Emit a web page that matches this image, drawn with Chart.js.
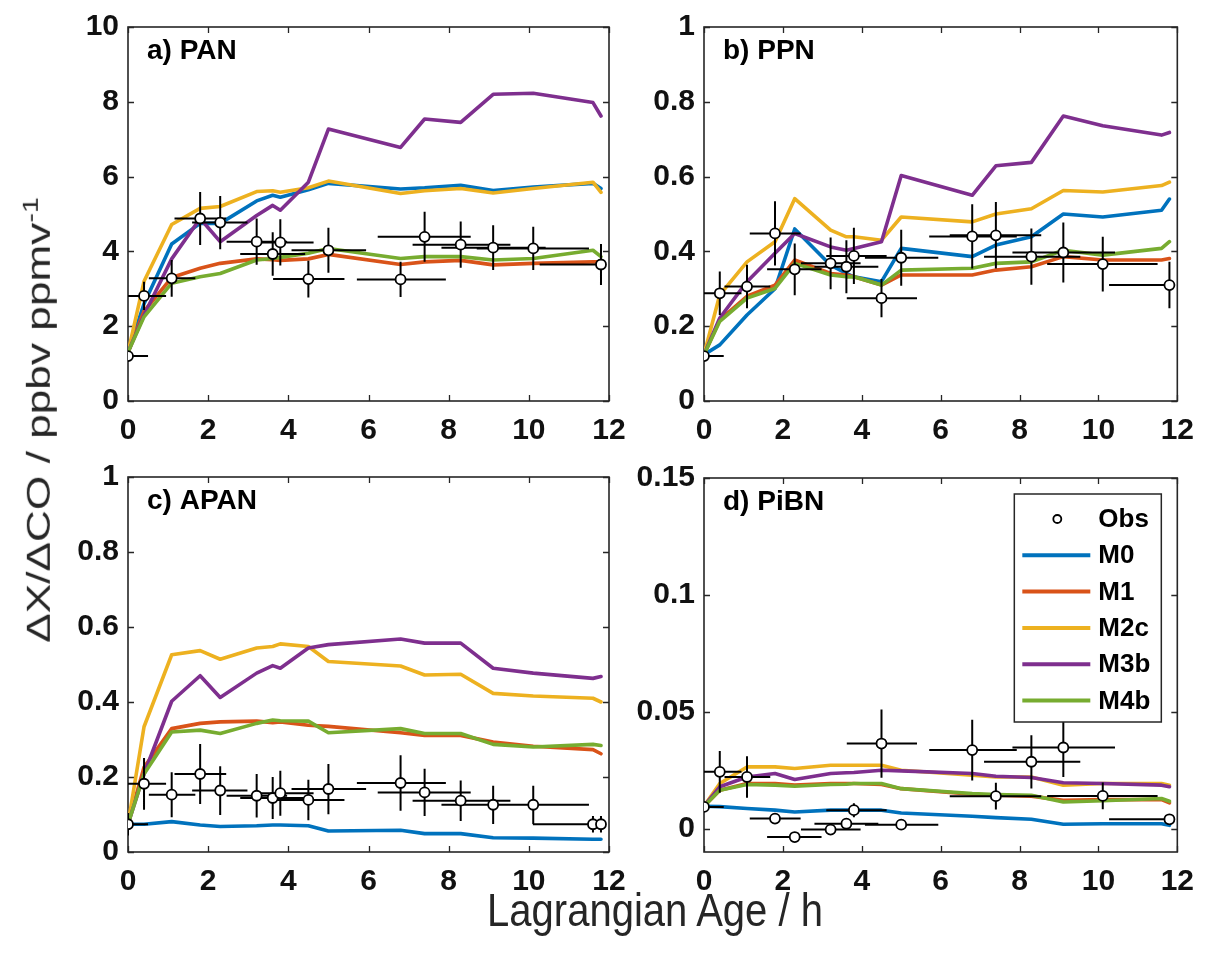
<!DOCTYPE html>
<html><head><meta charset="utf-8">
<script src="https://cdn.jsdelivr.net/npm/chart.js@4.4.1/dist/chart.umd.min.js"></script>
<style>
html,body{margin:0;padding:0;background:#fff;width:1206px;height:960px;overflow:hidden;}
#wrap{position:relative;width:1206px;height:960px;}
canvas{position:absolute;left:0;top:0;}
.title{position:absolute;font-family:"Liberation Sans",Arial,sans-serif;color:#262626;white-space:nowrap;}
#ytitle{left:38px;top:420px;font-size:34px;transform:translate(-50%,-50%) rotate(-90deg) scaleX(1.3);}
#ytitle sup{font-size:22px;}
#xtitle{left:655px;top:910px;font-size:40px;transform:translate(-50%,-50%) scaleY(1.15);}
</style></head><body>
<div id="wrap">
<canvas id="ca" width="1206" height="960"></canvas>
<canvas id="cb" width="1206" height="960"></canvas>
<canvas id="cc" width="1206" height="960"></canvas>
<canvas id="cd" width="1206" height="960"></canvas>
<div class="title" id="ytitle">ΔX/ΔCO / ppbv ppmv<sup>-1</sup></div>
<div class="title" id="xtitle">Lagrangian Age / h</div>
</div>
<script>
// ---------- shared x data ----------
const AGE = [0, 0.40, 1.09, 1.80, 2.30, 3.21, 3.61, 3.80, 4.50, 5.00, 6.80, 7.40, 8.30, 9.11, 10.11, 11.60, 11.80];
const OBS_AGE_LO = [0, 0, 0.52, 1.16, 1.60, 2.46, 2.80, 3.10, 3.62, 4.08, 5.71, 6.23, 7.10, 7.82, 8.70, 10.10, 10.27];
const OBS_AGE_HI = [0.50, 0.95, 1.68, 2.45, 2.98, 3.97, 4.42, 4.63, 5.40, 5.94, 7.93, 8.55, 9.54, 10.42, 11.50, 11.60, 11.80];
const X_TICKS = [0, 2, 4, 6, 8, 10, 12];
const X_TICK_LABELS = ['0', '2', '4', '6', '8', '10', '12'];
const MODEL_NAMES = ['M0', 'M1', 'M2c', 'M3b', 'M4b'];
const MODEL_COLORS = ['#0072BD', '#D95319', '#EDB120', '#7E2F8E', '#77AC30'];

// ---------- a) PAN ----------
const PAN_OBS = [1.20, 2.81, 3.28, 4.88, 4.77, 4.26, 3.93, 4.24, 3.26, 4.03, 3.25, 4.39, 4.18, 4.10, 4.08, null, 3.65];
const PAN_OBS_ERR = [0.05, 0.38, 0.49, 0.71, 0.71, 0.62, 0.58, 0.62, 0.49, 0.60, 0.47, 0.67, 0.62, 0.60, 0.58, null, 0.55];
const PAN_M0 = [1.30, 2.60, 4.20, 4.75, 4.75, 5.35, 5.50, 5.45, 5.65, 5.82, 5.67, 5.70, 5.77, 5.63, 5.72, 5.82, 5.68];
const PAN_M1 = [1.30, 2.40, 3.30, 3.55, 3.68, 3.80, 3.78, 3.76, 3.80, 3.92, 3.65, 3.72, 3.76, 3.64, 3.68, 3.72, 3.72];
const PAN_M2C = [1.30, 3.20, 4.72, 5.15, 5.20, 5.60, 5.62, 5.58, 5.70, 5.88, 5.55, 5.62, 5.68, 5.56, 5.68, 5.85, 5.58];
const PAN_M3B = [1.30, 2.30, 3.80, 4.88, 4.26, 4.96, 5.23, 5.10, 5.85, 7.27, 6.78, 7.54, 7.45, 8.20, 8.23, 7.98, 7.62];
const PAN_M4B = [1.30, 2.25, 3.15, 3.32, 3.41, 3.77, 3.81, 3.84, 3.95, 4.08, 3.81, 3.86, 3.86, 3.77, 3.81, 4.03, 3.86];
const PAN_Y_TICKS = [0, 2, 4, 6, 8, 10];
const PAN_Y_LABELS = ['0', '2', '4', '6', '8', '10'];

// ---------- b) PPN ----------
const PPN_OBS = [0.120, 0.288, 0.306, 0.448, 0.352, 0.368, 0.359, 0.388, 0.275, 0.383, 0.440, 0.443, 0.386, 0.397, 0.366, null, 0.310];
const PPN_OBS_ERR = [0.01, 0.058, 0.058, 0.086, 0.069, 0.069, 0.071, 0.075, 0.051, 0.075, 0.086, 0.089, 0.075, 0.080, 0.073, null, 0.062];
const PPN_M0 = [0.124, 0.150, 0.230, 0.300, 0.460, 0.363, 0.341, 0.332, 0.319, 0.408, 0.386, 0.417, 0.439, 0.500, 0.492, 0.510, 0.540];
const PPN_M1 = [0.124, 0.217, 0.280, 0.310, 0.377, 0.341, 0.337, 0.332, 0.310, 0.337, 0.337, 0.350, 0.359, 0.386, 0.377, 0.377, 0.381];
const PPN_M2C = [0.124, 0.284, 0.372, 0.426, 0.541, 0.457, 0.439, 0.439, 0.430, 0.492, 0.479, 0.500, 0.514, 0.563, 0.559, 0.576, 0.585];
const PPN_M3B = [0.124, 0.222, 0.319, 0.395, 0.448, 0.412, 0.403, 0.408, 0.426, 0.603, 0.550, 0.629, 0.638, 0.762, 0.736, 0.711, 0.718];
const PPN_M4B = [0.124, 0.213, 0.275, 0.301, 0.368, 0.337, 0.332, 0.332, 0.310, 0.350, 0.355, 0.368, 0.372, 0.403, 0.390, 0.408, 0.426];
const UNIT_Y_TICKS = [0, 0.2, 0.4, 0.6, 0.8, 1];
const UNIT_Y_LABELS = ['0', '0.2', '0.4', '0.6', '0.8', '1'];

// ---------- c) APAN ----------
const APAN_OBS = [0.074, 0.182, 0.153, 0.208, 0.164, 0.150, 0.144, 0.157, 0.139, 0.168, 0.184, 0.159, 0.137, 0.126, 0.126, 0.074, 0.074];
const APAN_OBS_ERR = [0.03, 0.069, 0.060, 0.080, 0.065, 0.058, 0.056, 0.060, 0.054, 0.067, 0.074, 0.063, 0.054, 0.051, 0.051, 0.022, 0.022];
const APAN_M0 = [0.074, 0.074, 0.081, 0.072, 0.068, 0.070, 0.072, 0.072, 0.070, 0.056, 0.058, 0.049, 0.049, 0.038, 0.037, 0.034, 0.034];
const APAN_M1 = [0.074, 0.226, 0.329, 0.343, 0.347, 0.349, 0.345, 0.347, 0.338, 0.335, 0.318, 0.311, 0.311, 0.293, 0.282, 0.273, 0.262];
const APAN_M2C = [0.074, 0.334, 0.526, 0.537, 0.514, 0.544, 0.548, 0.555, 0.548, 0.508, 0.496, 0.472, 0.474, 0.423, 0.416, 0.410, 0.400];
const APAN_M3B = [0.074, 0.208, 0.402, 0.470, 0.412, 0.477, 0.497, 0.490, 0.544, 0.553, 0.568, 0.557, 0.557, 0.490, 0.477, 0.463, 0.468];
const APAN_M4B = [0.074, 0.208, 0.320, 0.325, 0.316, 0.343, 0.352, 0.350, 0.349, 0.318, 0.329, 0.316, 0.316, 0.287, 0.280, 0.287, 0.284];

// ---------- d) PiBN ----------
const PIBN_OBS = [0.0093, 0.0243, 0.0221, 0.0043, -0.0036, -0.0004, 0.0021, 0.0079, 0.0364, 0.0017, 0.0336, 0.0139, 0.0286, 0.0347, 0.0140, null, 0.0040];
const PIBN_OBS_ERR = [0, 0.0089, 0.0089, 0, 0, 0, 0, 0.003, 0.0146, 0, 0.0130, 0.0057, 0.0114, 0.0126, 0.0057, null, 0.001];
const PIBN_M0 = [0.0096, 0.0094, 0.0086, 0.0079, 0.0071, 0.0079, 0.0079, 0.0079, 0.0079, 0.0067, 0.0053, 0.0047, 0.0040, 0.0019, 0.0021, 0.0021, 0.0014];
const PIBN_M1 = [0.0096, 0.0164, 0.0193, 0.0193, 0.0186, 0.0193, 0.0193, 0.0193, 0.0189, 0.0171, 0.0147, 0.0143, 0.0139, 0.0121, 0.0124, 0.0124, 0.0110];
const PIBN_M2C = [0.0096, 0.0193, 0.0264, 0.0264, 0.0257, 0.0271, 0.0271, 0.0271, 0.0271, 0.0250, 0.0229, 0.0221, 0.0221, 0.0186, 0.0193, 0.0193, 0.0186];
const PIBN_M3B = [0.0096, 0.0179, 0.0221, 0.0236, 0.0210, 0.0236, 0.0239, 0.0240, 0.0250, 0.0247, 0.0236, 0.0224, 0.0219, 0.0196, 0.0193, 0.0186, 0.0179];
const PIBN_M4B = [0.0096, 0.0164, 0.0189, 0.0186, 0.0181, 0.0189, 0.0190, 0.0193, 0.0193, 0.0171, 0.0150, 0.0146, 0.0143, 0.0114, 0.0119, 0.0129, 0.0117];
const PIBN_Y_TICKS = [0, 0.05, 0.1, 0.15];
const PIBN_Y_LABELS = ['0', '0.05', '0.1', '0.15'];

// ---------- drawing ----------
const FONT = '"Liberation Sans", Arial, sans-serif';
const INK = '#262626';
Chart.defaults.font.family = FONT;
const Y_AXIS_W = 70, X_AXIS_H = 45;

function pts(ys) {
  const out = [];
  ys.forEach((y, i) => { if (y !== null) out.push({ x: AGE[i], y: y }); });
  return out;
}

const boxPlugin = {
  id: 'matlabBox',
  beforeDatasetsDraw(chart) {
    const { ctx, chartArea: a, scales: { x, y } } = chart;
    ctx.save();
    ctx.strokeStyle = INK; ctx.lineWidth = 1.6;
    ctx.strokeRect(a.left, a.top, a.right - a.left, a.bottom - a.top);
    ctx.lineWidth = 1.3;
    ctx.beginPath();
    x.ticks.forEach(t => {
      const px = Math.round(x.getPixelForValue(t.value)) + 0.5;
      ctx.moveTo(px, a.bottom); ctx.lineTo(px, a.bottom - 6);
      ctx.moveTo(px, a.top); ctx.lineTo(px, a.top + 6);
    });
    y.ticks.forEach(t => {
      const py = Math.round(y.getPixelForValue(t.value)) + 0.5;
      ctx.moveTo(a.left, py); ctx.lineTo(a.left + 6, py);
      ctx.moveTo(a.right, py); ctx.lineTo(a.right - 6, py);
    });
    ctx.stroke();
    ctx.restore();
  },
  afterDraw(chart) {
    const o = chart.options.plugins.matlabBox;
    const { ctx, chartArea: a } = chart;
    ctx.save();
    ctx.fillStyle = '#000';
    ctx.font = 'bold 28px ' + FONT;
    ctx.textBaseline = 'middle';
    ctx.fillText(o.label, a.left + 19, a.top + 24);
    if (o.legend) {
      const bl = a.right - 163, bt = a.top + 16, bw = 147, bh = 228;
      ctx.fillStyle = '#fff';
      ctx.fillRect(bl, bt, bw, bh);
      ctx.strokeStyle = INK; ctx.lineWidth = 1.5;
      ctx.strokeRect(bl, bt, bw, bh);
      ctx.font = 'bold 26px ' + FONT;
      ctx.fillStyle = '#000';
      const rows = ['Obs'].concat(MODEL_NAMES);
      rows.forEach((name, i) => {
        const ry = bt + 25 + i * 36.3;
        if (i === 0) {
          ctx.beginPath(); ctx.arc(bl + 43, ry, 4, 0, Math.PI * 2);
          ctx.fillStyle = '#fff'; ctx.fill();
          ctx.strokeStyle = '#000'; ctx.lineWidth = 1.8; ctx.stroke();
        } else {
          ctx.strokeStyle = MODEL_COLORS[i - 1]; ctx.lineWidth = 4;
          ctx.beginPath(); ctx.moveTo(bl + 8, ry); ctx.lineTo(bl + 76, ry); ctx.stroke();
        }
        ctx.fillStyle = '#000';
        ctx.fillText(name, bl + 84, ry + 1);
      });
    }
    ctx.restore();
  },
  beforeDatasetDraw(chart, args) {
    if (args.index !== 0) return;
    const o = chart.options.plugins.matlabBox;
    const { ctx, chartArea: a, scales: { x, y } } = chart;
    ctx.save();
    ctx.beginPath(); ctx.rect(a.left, a.top, a.right - a.left, a.bottom - a.top); ctx.clip();
    ctx.strokeStyle = '#000'; ctx.lineWidth = 2;
    ctx.beginPath();
    o.obs.forEach((v, i) => {
      if (v === null) return;
      const py = y.getPixelForValue(v), px = x.getPixelForValue(AGE[i]);
      ctx.moveTo(x.getPixelForValue(OBS_AGE_LO[i]), py);
      ctx.lineTo(x.getPixelForValue(OBS_AGE_HI[i]), py);
      const e = o.err[i] || 0;
      if (e > 0) {
        ctx.moveTo(px, y.getPixelForValue(v - e));
        ctx.lineTo(px, y.getPixelForValue(v + e));
      }
    });
    ctx.stroke();
    ctx.restore();
  }
};

function makeChart(id, area, label, yMin, yMax, yTicks, yLabels, obs, err, models, legend) {
  const datasets = [{
    type: 'scatter', label: 'Obs', data: pts(obs), order: 0,
    pointRadius: 5, pointBackgroundColor: '#fff', pointBorderColor: '#000', pointBorderWidth: 1.8
  }];
  models.forEach((m, i) => {
    datasets.push({
      type: 'line', label: MODEL_NAMES[i], data: pts(m), order: 5 - i,
      borderColor: MODEL_COLORS[i], borderWidth: 3.6, pointRadius: 0, fill: false, tension: 0,
      borderJoinStyle: 'round', borderCapStyle: 'round'
    });
  });
  return new Chart(document.getElementById(id), {
    data: { datasets },
    options: {
      responsive: false, animation: false, devicePixelRatio: 1,
      layout: {
        autoPadding: false,
        padding: { left: area.left - Y_AXIS_W, top: area.top, right: 1206 - area.right, bottom: 960 - area.bottom - X_AXIS_H }
      },
      plugins: {
        legend: { display: false }, tooltip: { enabled: false },
        matlabBox: { label, legend, obs, err }
      },
      scales: {
        x: {
          type: 'linear', min: 0, max: 12,
          afterBuildTicks: s => { s.ticks = X_TICKS.map(v => ({ value: v })); },
          afterFit: s => { s.height = X_AXIS_H; },
          grid: { display: false, drawTicks: false }, border: { display: false },
          ticks: { callback: (v, i) => X_TICK_LABELS[i], padding: 12, color: '#111', font: { size: 30, weight: 'bold' }, maxRotation: 0 }
        },
        y: {
          type: 'linear', min: yMin, max: yMax,
          afterBuildTicks: s => { s.ticks = yTicks.map(v => ({ value: v })); },
          afterFit: s => { s.width = Y_AXIS_W; },
          grid: { display: false, drawTicks: false }, border: { display: false },
          ticks: { callback: (v, i) => yLabels[i], padding: 9, color: '#111', font: { size: 30, weight: 'bold' } }
        }
      }
    },
    plugins: [boxPlugin]
  });
}

makeChart('ca', { left: 128, right: 609, top: 24, bottom: 401 }, 'a) PAN', 0, 10, PAN_Y_TICKS, PAN_Y_LABELS,
  PAN_OBS, PAN_OBS_ERR, [PAN_M0, PAN_M1, PAN_M2C, PAN_M3B, PAN_M4B], false);
makeChart('cb', { left: 704, right: 1183, top: 24, bottom: 401 }, 'b) PPN', 0, 1, UNIT_Y_TICKS, UNIT_Y_LABELS,
  PPN_OBS, PPN_OBS_ERR, [PPN_M0, PPN_M1, PPN_M2C, PPN_M3B, PPN_M4B], false);
makeChart('cc', { left: 128, right: 609, top: 477, bottom: 852 }, 'c) APAN', 0, 1, UNIT_Y_TICKS, UNIT_Y_LABELS,
  APAN_OBS, APAN_OBS_ERR, [APAN_M0, APAN_M1, APAN_M2C, APAN_M3B, APAN_M4B], false);
makeChart('cd', { left: 704, right: 1183, top: 478, bottom: 852 }, 'd) PiBN', -0.01, 0.15, PIBN_Y_TICKS, PIBN_Y_LABELS,
  PIBN_OBS, PIBN_OBS_ERR, [PIBN_M0, PIBN_M1, PIBN_M2C, PIBN_M3B, PIBN_M4B], true);
</script>
</body></html>
